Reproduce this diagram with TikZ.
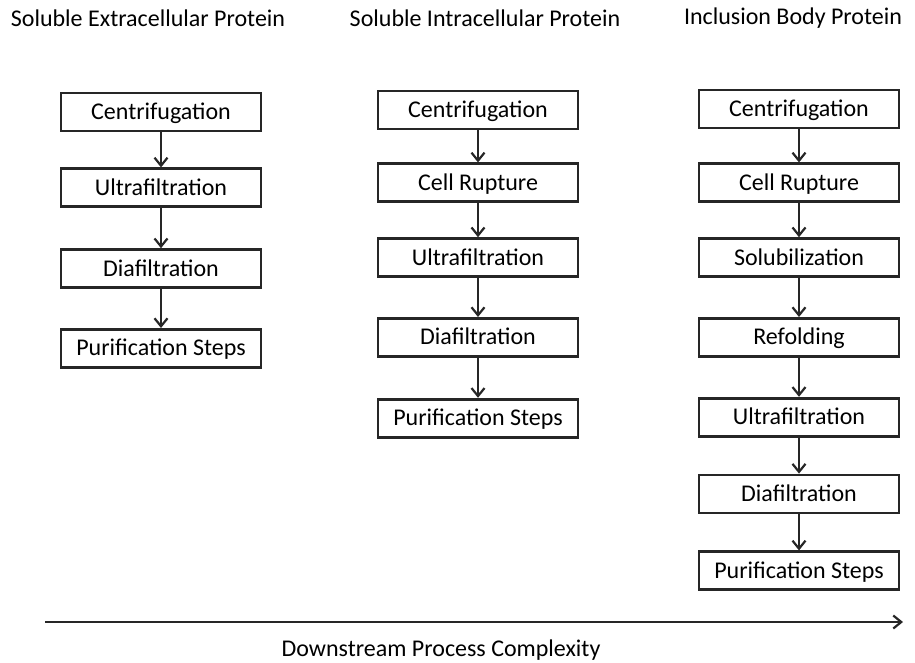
\documentclass[tikz,border=0pt]{standalone}
\usepackage{fontspec}
\setmainfont{Carlito}
\usetikzlibrary{positioning, arrows.meta}

\begin{document}
\begin{tikzpicture}[
    x=1pt, y=-1pt,
    font=\fontsize{24}{28}\selectfont,
    stepbox/.style={draw=black!85, rectangle, line width=2.8pt, minimum width=200pt, minimum height=38pt, inner sep=0pt, text height=20pt, text depth=5pt, align=center},
    heading/.style={inner sep=0pt, anchor=center},
    arr/.style={-{Straight Barb[length=8pt, width=13pt, line width=2.2pt]}, line width=2.4pt, draw=black!85}
]
    \useasboundingbox (0,0) rectangle (915,662);

    % column headings
    \node[heading] (extra) at (148,18) {Soluble Extracellular Protein};
    \node[heading] (intra) at (485,18) {Soluble Intracellular Protein};
    \node[heading] (incl) at (793,18) {Inclusion Body Protein};

    % soluble extracellular
    \node[stepbox] (ex1) at (161,112) {Centrifugation};
    \node[stepbox] (ex2) [below=35pt of ex1] {Ultrafiltration};
    \node[stepbox] (ex3) [below=40pt of ex2] {Diafiltration};
    \node[stepbox] (ex4) [below=39pt of ex3] {Purification Steps};

    \draw[arr] (ex1) -- (ex2);
    \draw[arr] (ex2) -- (ex3);
    \draw[arr] (ex3) -- (ex4);

    % soluble intracellular
    \node[stepbox] (in1) at (478,110) {Centrifugation};
    \node[stepbox] (in2) [below=32pt of in1] {Cell Rupture};
    \node[stepbox] (in3) [below=34pt of in2] {Ultrafiltration};
    \node[stepbox] (in4) [below=39pt of in3] {Diafiltration};
    \node[stepbox] (in5) [below=40pt of in4] {Purification Steps};

    \draw[arr] (in1) -- (in2);
    \draw[arr] (in2) -- (in3);
    \draw[arr] (in3) -- (in4);
    \draw[arr] (in4) -- (in5);

    % inclusion body
    \node[stepbox] (ib1) at (799,109) {Centrifugation};
    \node[stepbox] (ib2) [below=33pt of ib1] {Cell Rupture};
    \node[stepbox] (ib3) [below=34pt of ib2] {Solubilization};
    \node[stepbox] (ib4) [below=39pt of ib3] {Refolding};
    \node[stepbox] (ib5) [below=39pt of ib4] {Ultrafiltration};
    \node[stepbox] (ib6) [below=36pt of ib5] {Diafiltration};
    \node[stepbox] (ib7) [below=36pt of ib6] {Purification Steps};

    \foreach \a/\b in {ib1/ib2, ib2/ib3, ib3/ib4, ib4/ib5, ib5/ib6, ib6/ib7}
        \draw[arr] (\a) -- (\b);

    % complexity axis
    \coordinate (axstart) at (45,622);
    \coordinate (axend) at (903,622);
    \draw[arr] (axstart) -- (axend);
    \node[heading] (axlabel) at (441,650) {Downstream Process Complexity};
\end{tikzpicture}
\end{document}
